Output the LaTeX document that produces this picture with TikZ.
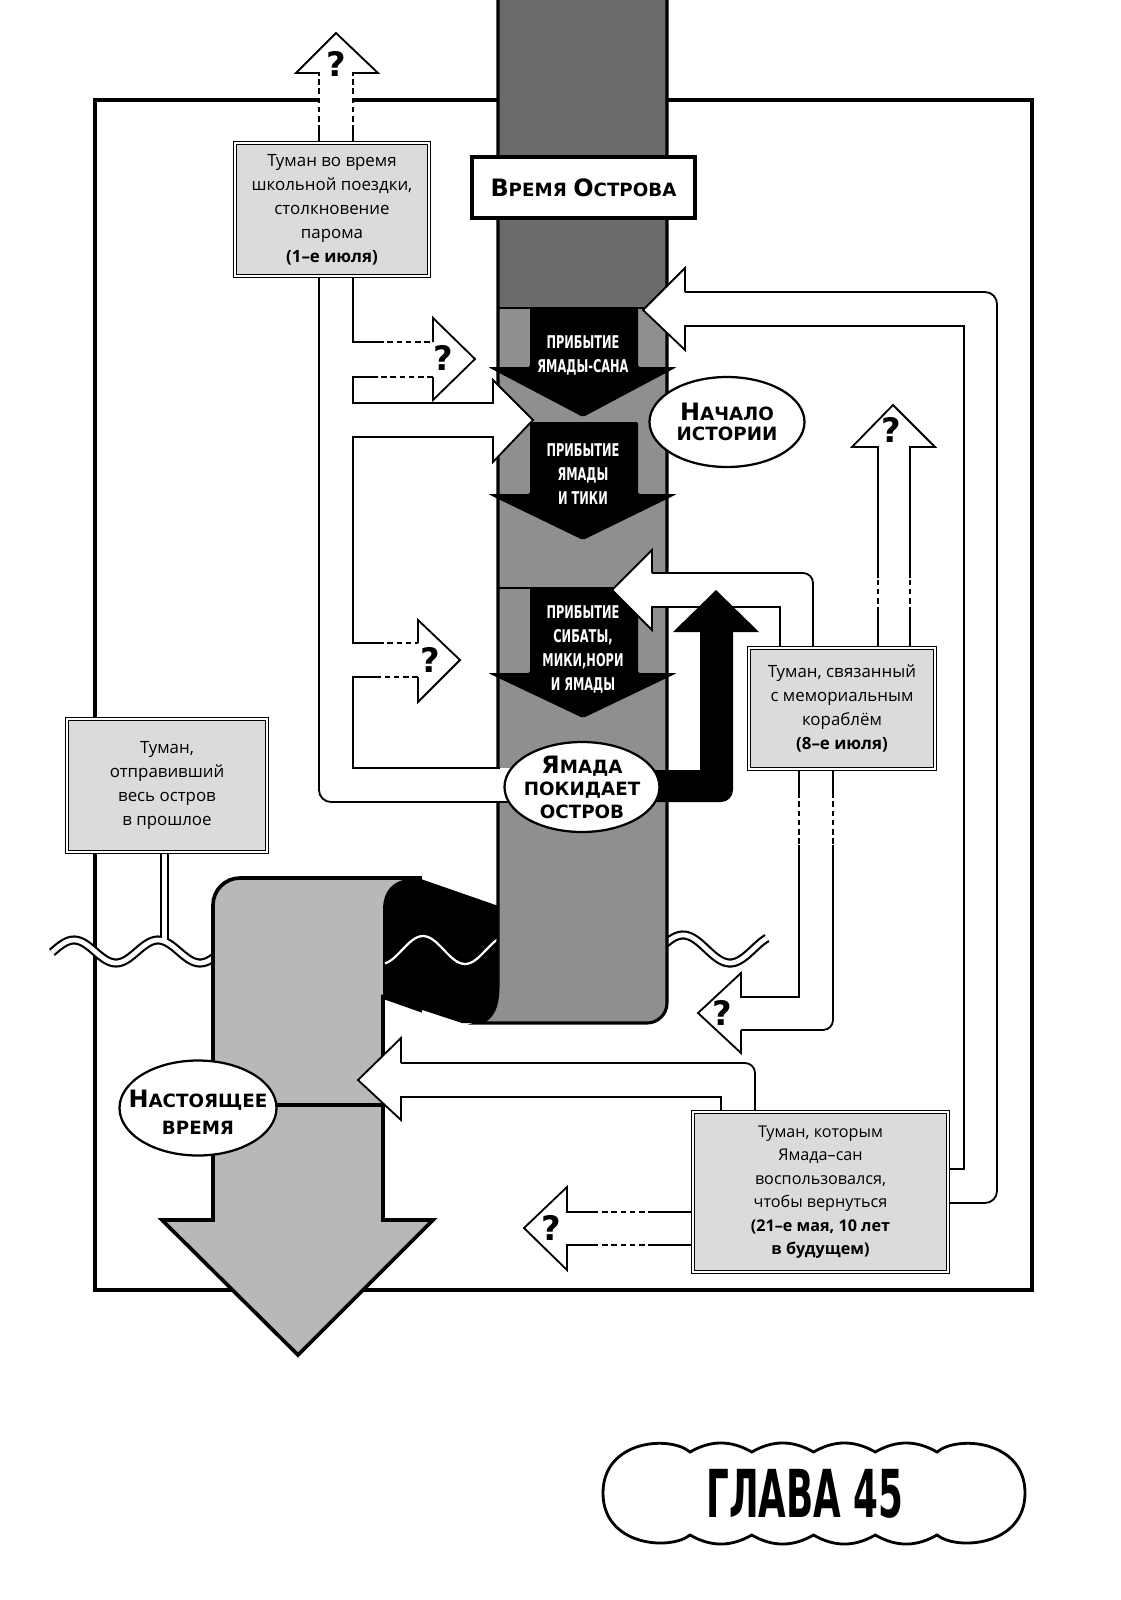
\documentclass[tikz,border=0pt]{standalone}
\usepackage{graphicx}
\usepackage{fontspec}
\setmainfont{Open Sans}
\newfontfamily\lblfont{DejaVu Sans}
\newfontfamily\condfont{DejaVu Sans Condensed}
\usetikzlibrary{positioning, shapes.geometric}
\newcommand\pxu{0.025cm}
\newcommand\fsc[2]{{\fontsize{17}{17}\selectfont #1}#2}
\newcommand\squeeze[2]{\scalebox{#1}[1]{\begin{tabular}{@{}c@{}}#2\end{tabular}}}
\tikzset{
  frame/.style={line width=2.2pt},
  chan/.style={line width=1.3pt},
  dotchan/.style={chan, dash pattern=on 4pt off 2.6pt},
  ribbon/.style={line width=6.5pt},
  ribbonin/.style={line width=3.4pt, white},
  fogbox/.style={
      rectangle,
      draw,
      double=white,
      double distance=1.5pt,
      line width=0.6pt,
      fill=black!14,
      align=center,
      inner sep=0pt,
      font=\fontsize{12}{17}\selectfont
    },
  oval/.style={
      ellipse,
      draw,
      line width=1.6pt,
      fill=white,
      inner sep=0pt
    },
  ovaltext/.style={
      align=center,
      inner sep=0pt,
      font=\lblfont\bfseries\fontsize{13}{16}\selectfont
    },
  tag/.style={
      rectangle,
      draw,
      line width=2.6pt,
      fill=white,
      inner sep=0pt,
      font=\lblfont\bfseries\fontsize{13}{16}\selectfont
    },
  blktext/.style={
      text=white,
      inner sep=0pt,
      font=\condfont\bfseries\fontsize{12.5}{17}\selectfont
    },
  qmark/.style={
      inner sep=0pt,
      font=\lblfont\bfseries\fontsize{24}{24}\selectfont
    }
}

\begin{document}
\begin{tikzpicture}[x=\pxu, y=-\pxu]
  \useasboundingbox (0,0) rectangle (1120,1600);
  % outer frame
  \draw[frame] (95,100) rectangle (1032,1290);

  % waves
  \draw[ribbon] (164.5,852) -- (164.5,942);
  \draw[ribbon] plot[domain=52:216, samples=60] (\x, {951.5-11.5*cos((\x-74)*4.2857)});
  \draw[ribbon] plot[domain=660:767, samples=40] (\x, {949-14*cos((\x-683)*3.8298)});
  \draw[ribbonin] (164.5,850) -- (164.5,942);
  \draw[ribbonin] plot[domain=52:216, samples=60] (\x, {951.5-11.5*cos((\x-74)*4.2857)});
  \draw[ribbonin] plot[domain=660:767, samples=40] (\x, {949-14*cos((\x-683)*3.8298)});

  % present time pipe and the bend
  \filldraw[fill=black!28, line width=2.6pt] (213,1220) -- (213,905) arc[start angle=180, end angle=90, radius=27*\pxu]
    -- (420,878) -- (420,1010) -- (383,997) -- (383,1220) -- (433,1220) -- (298,1355) -- (162,1220) -- cycle;
  \draw[line width=2.2pt] (213,1105) -- (383,1105);
  \fill[black] (383,997) -- (383,910) .. controls (383,888) and (396,878) .. (418,878) -- (510,910) -- (510,1023) -- (462,1023) -- cycle;
  \draw[white, line width=1.6pt] plot[domain=385:500, samples=40] (\x, {950-14*cos((\x-423)*4.2857)});

  % island time column
  \fill[black!44] (498,-5) -- (498,985) .. controls (498,1008) and (492,1020) .. (478,1023) -- (647,1023)
    arc[start angle=270, end angle=360, radius=20*\pxu] -- (667,-5) -- cycle;
  \fill[black!58] (498,-5) rectangle (667,308);
  \draw[line width=2.2pt] (498,-5) -- (498,985) .. controls (498,1008) and (492,1020) .. (478,1023) -- (647,1023)
    arc[start angle=270, end angle=360, radius=20*\pxu] -- (667,-5);
  \draw[line width=1pt] (498,308) -- (667,308) (498,588) -- (667,588);

  % arrivals
  \foreach \ya/\yb/\yc in {308/367/417, 422/494/540, 588/673/718}
    \fill[black, rounded corners=2*\pxu] (530,\ya) -- (638,\ya) -- (638,\yb) -- (677,\yb) -- (583,\yc) -- (488,\yb) -- (530,\yb) -- cycle;
  \node[blktext] (arrA) at (583,356) {\squeeze{0.72}{ПРИБЫТИЕ\\ЯМАДЫ-САНА}};
  \node[blktext] (arrB) at (583,476) {\squeeze{0.72}{ПРИБЫТИЕ\\ЯМАДЫ\\И ТИКИ}};
  \node[blktext] (arrC) at (583,650) {\squeeze{0.72}{ПРИБЫТИЕ\\СИБАТЫ,\\МИКИ,НОРИ\\И ЯМАДЫ}};

  % white fills where arrows cross something
  \fill[white] (319,73) rectangle (353,143);
  \fill[white] (480,403) -- (493,403) -- (493,380) -- (533,420) -- (493,462) -- (493,437) -- (480,437) -- cycle;
  \fill[white] (490,768) rectangle (515,802);
  \fill[white] (685,292) -- (685,268) -- (643,310) -- (685,350) -- (685,326) -- cycle;
  \fill[white] (672,573) -- (652,573) -- (652,550) -- (612,590) -- (652,630) -- (652,607) -- (672,607) -- cycle;
  \fill[white] (401,1063) -- (401,1038) -- (358,1080) -- (401,1120) -- (401,1097) -- cycle;

  % up from the school trip fog
  \draw[chan] (319,143) -- (319,131) (353,143) -- (353,131);
  \draw[dotchan] (319,131) -- (319,75) (353,131) -- (353,75);
  \draw[chan] (319,75) -- (319,73) -- (296,73) -- (336,33) -- (378,73) -- (353,73) -- (353,75);

  % left channel
  \draw[chan, rounded corners=12*\pxu] (319,276) -- (319,802) -- (512,802);
  \draw[chan] (353,276) -- (353,342) -- (378,342);
  \draw[dotchan] (378,342) -- (433,342);
  \draw[chan] (433,342) -- (433,318) -- (475,359) -- (433,400) -- (433,377);
  \draw[dotchan] (433,377) -- (378,377);
  \draw[chan] (378,377) -- (353,377) -- (353,403) -- (493,403) -- (493,380) -- (533,420) -- (493,462) -- (493,437)
    -- (353,437) -- (353,643) -- (378,643);
  \draw[dotchan] (378,643) -- (418,643);
  \draw[chan] (418,643) -- (418,620) -- (460,660) -- (418,702) -- (418,677);
  \draw[dotchan] (418,677) -- (378,677);
  \draw[chan] (378,677) -- (353,677) -- (353,768) -- (500,768);

  % memorial ship fog: into the column, up, down
  \draw[chan] (780,648) -- (780,607) -- (652,607) -- (652,630) -- (612,590) -- (652,550) -- (652,573);
  \draw[chan, rounded corners=10*\pxu] (652,573) -- (813,573) -- (813,648);
  \draw[chan] (878,648) -- (878,613) (910,648) -- (910,613);
  \draw[dotchan] (878,613) -- (878,578) (910,613) -- (910,578);
  \draw[chan] (878,578) -- (878,447) -- (852,447) -- (893,405) -- (935,447) -- (910,447) -- (910,578);
  \draw[chan] (799,769) -- (799,792) (833,769) -- (833,792);
  \draw[dotchan] (799,792) -- (799,845) (833,792) -- (833,845);
  \draw[chan] (799,845) -- (799,997) -- (741,997) -- (741,973) -- (698,1013) -- (741,1053) -- (741,1030);
  \draw[chan, rounded corners=10*\pxu] (741,1030) -- (833,1030) -- (833,845);

  % return fog: to the top, to the present, to the left
  \draw[chan] (948,1169) -- (964,1169) -- (964,326) -- (685,326) -- (685,350) -- (643,310) -- (685,268) -- (685,292);
  \draw[chan, rounded corners=12*\pxu] (685,292) -- (997,292) -- (997,1203) -- (948,1203);
  \draw[chan] (721,1112) -- (721,1097) -- (401,1097) -- (401,1120) -- (358,1080) -- (401,1038) -- (401,1063);
  \draw[chan, rounded corners=10*\pxu] (401,1063) -- (755,1063) -- (755,1112);
  \draw[chan] (693,1212) -- (654,1212) (693,1245) -- (654,1245);
  \draw[dotchan] (654,1212) -- (597,1212) (654,1245) -- (597,1245);
  \draw[chan] (597,1212) -- (567,1212) -- (567,1187) -- (524,1228) -- (567,1270) -- (567,1245) -- (597,1245);

  % Yamada leaves
  \fill[black] (640,770) -- (700,770) -- (700,632) -- (673,632) -- (716,590) -- (759,632) -- (733,632) -- (733,790)
    arc[start angle=0, end angle=-90, radius=12*\pxu] -- (640,802) -- cycle;

  % fog boxes
  \node[fogbox, minimum width=194*\pxu, minimum height=133*\pxu] (fogSchool) at (332,209.5)
    {Туман во время\\школьной поездки,\\столкновение\\парома\\\textbf{(1–е июля)}};
  \node[fogbox, minimum width=200*\pxu, minimum height=133*\pxu] (fogPast) at (167,785.5)
    {Туман,\\отправивший\\весь остров\\в прошлое};
  \node[fogbox, minimum width=186*\pxu, minimum height=121*\pxu] (fogShip) at (842,708.5)
    {Туман, связанный\\с мемориальным\\кораблём\\\textbf{(8–е июля)}};
  \node[fogbox, minimum width=255*\pxu, minimum height=160*\pxu, font=\fontsize{11.5}{16.7}\selectfont] (fogReturn) at (820.5,1192)
    {Туман, которым\\Ямада–сан\\воспользовался,\\чтобы вернуться\\\textbf{(21–е мая, 10 лет}\\\textbf{в будущем)}};

  % labels
  \node[tag, minimum width=223*\pxu, minimum height=61*\pxu] (islandTime) at (583.5,187.5) {\fsc{В}{РЕМЯ} \fsc{О}{СТРОВА}};
  \node[oval, minimum width=155*\pxu, minimum height=90*\pxu] (storyStart) at (727,422) {};
  \node[ovaltext] at (storyStart.center) {\fsc{Н}{АЧАЛО}\\[-2pt]ИСТОРИИ};
  \node[oval, minimum width=155*\pxu, minimum height=90*\pxu] (leaves) at (582,787) {};
  \node[ovaltext] at (leaves.center) {\fsc{Я}{МАДА}\\ПОКИДАЕТ\\ОСТРОВ};
  \node[oval, minimum width=157*\pxu, minimum height=95*\pxu] (present) at (198,1108) {};
  \node[ovaltext] at (198,1112) {\fsc{Н}{АСТОЯЩЕЕ}\\[3pt]ВРЕМЯ};

  % question marks
  \node[qmark] (qTop) at (336,64) {?};
  \node[qmark] (qSchoolA) at (443,358) {?};
  \node[qmark] (qSchoolB) at (430,660) {?};
  \node[qmark] (qShipUp) at (891,430) {?};
  \node[qmark] (qShipDown) at (722,1013) {?};
  \node[qmark] (qReturn) at (551,1228) {?};

  % chapter title
  \draw[line width=2pt, fill=white] (690,1452) foreach \i in {1,...,4} { to[bend left=30] ++(61.75,0) }
    .. controls (957,1435) and (1025,1440) .. (1025,1493) .. controls (1025,1546) and (957,1551) .. (937,1535)
    foreach \i in {1,...,4} { to[bend left=30] ++(-61.75,0) }
    .. controls (670,1551) and (603,1546) .. (603,1493) .. controls (603,1440) and (670,1435) .. (690,1452) -- cycle;
  \node[inner sep=0pt, font=\condfont\bfseries\fontsize{47}{47}\selectfont] (chapter) at (805,1494) {\scalebox{0.6}[1]{ГЛАВА 45}};
\end{tikzpicture}
\end{document}
